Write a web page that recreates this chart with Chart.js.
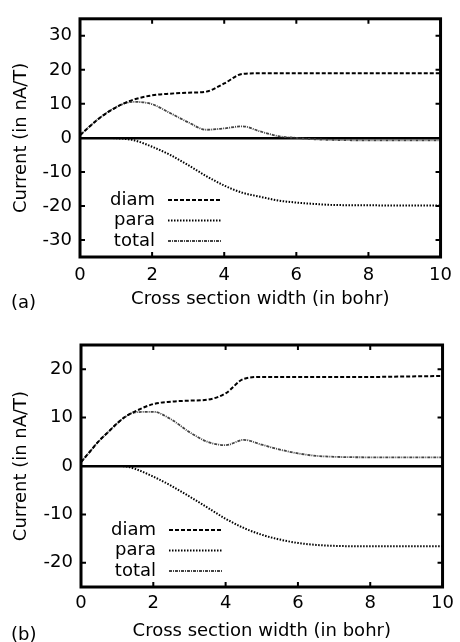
<!DOCTYPE html>
<html>
<head>
<meta charset="utf-8">
<script src="https://cdn.jsdelivr.net/npm/chart.js@4.4.1/dist/chart.umd.min.js"></script>
<style>
  body { margin: 0; background: #fff; width: 460px; height: 642px; position: relative; overflow: hidden; }
  canvas { display: block; position: absolute; left: 0; }
  .tag { position: absolute; left: 11px; font: 18px "DejaVu Sans", sans-serif; line-height: 18px; color: #000; }
</style>
</head>
<body>
<canvas id="panel-a" width="460" height="316" style="top:0"></canvas>
<canvas id="panel-b" width="460" height="326" style="top:316px"></canvas>
<span class="tag" style="top:293px">(a)</span>
<span class="tag" style="top:625px">(b)</span>
<script>
// cross section width (bohr)
const xs = [0, 0.25, 0.5, 0.75, 1, 1.25, 1.5, 2, 2.5, 3, 3.5, 4, 4.5, 5, 5.5, 6, 6.5, 7, 8, 9, 10];

// panel (a)
const diamA  = [0.8, 3.2, 5.5, 7.4, 9.0, 10.3, 11.3, 12.5, 13.0, 13.3, 13.6, 16.0, 18.8, 19.0, 19.0, 19.0, 19.0, 19.0, 19.0, 19.0, 19.0];
const paraA  = [0, 0, 0, 0, -0.1, -0.3, -0.7, -2.6, -5.0, -8.0, -11.2, -14.0, -16.1, -17.3, -18.4, -19.0, -19.4, -19.7, -19.8, -19.9, -19.9];
const totalA = [0.8, 3.2, 5.5, 7.4, 9.0, 10.2, 10.6, 9.9, 7.3, 4.6, 2.4, 2.8, 3.4, 1.9, 0.5, 0.0, -0.4, -0.6, -0.7, -0.7, -0.7];

// panel (b)
const diamB  = [0.8, 3.0, 5.2, 7.0, 8.8, 10.3, 11.3, 12.8, 13.3, 13.5, 13.7, 15.0, 18.0, 18.4, 18.4, 18.4, 18.4, 18.4, 18.4, 18.5, 18.6];
const paraB  = [0, 0, 0, 0, 0, -0.1, -0.6, -2.2, -4.1, -6.3, -8.6, -10.9, -12.8, -14.2, -15.2, -15.9, -16.3, -16.5, -16.6, -16.6, -16.6];
const totalB = [0.8, 3.0, 5.2, 7.0, 8.8, 10.3, 11.1, 11.2, 9.6, 7.0, 5.0, 4.3, 5.4, 4.4, 3.4, 2.6, 2.1, 1.9, 1.8, 1.8, 1.8];

const xTicks  = [0, 2, 4, 6, 8, 10];
const yTicksA = [-30, -20, -10, 0, 10, 20, 30];
const yTicksB = [-20, -10, 0, 10, 20];

const FONT = '"DejaVu Sans", sans-serif';

function pts(ys) {
    return xs.map((x, i) => ({x: x, y: ys[i]}));
}

function dataset(label, ys) {
    let style;
    if (label === 'diam') style = {dash: [4, 2], color: '#000', width: 2};
    if (label === 'para') style = {dash: [1.5, 1.5], color: '#000', width: 2};
    if (label === 'total') style = {dash: [3, 1, 1, 1], color: '#444', width: 1.8};
    return {
        label: label,
        data: pts(ys),
        borderColor: style.color,
        borderWidth: style.width,
        borderDash: style.dash,
        pointRadius: 0,
        fill: false,
        cubicInterpolationMode: 'monotone'
    };
}

// frame with inward ticks + legend inside the plot
const framePlugin = {
    id: 'frame',
    afterDraw(chart) {
        const {ctx, chartArea: a, scales: {x, y}} = chart;
        ctx.save();
        ctx.strokeStyle = '#000';
        ctx.setLineDash([]);
        ctx.lineWidth = 3;
        ctx.strokeRect(a.left, a.top, a.right - a.left, a.bottom - a.top);
        ctx.lineWidth = 2;
        ctx.beginPath();
        x.ticks.forEach(t => {
            const px = x.getPixelForValue(t.value);
            ctx.moveTo(px, a.bottom); ctx.lineTo(px, a.bottom - 5);
            ctx.moveTo(px, a.top); ctx.lineTo(px, a.top + 5);
        });
        y.ticks.forEach(t => {
            const py = y.getPixelForValue(t.value);
            ctx.moveTo(a.left, py); ctx.lineTo(a.left + 5, py);
            ctx.moveTo(a.right, py); ctx.lineTo(a.right - 5, py);
        });
        ctx.stroke();

        // legend
        ctx.font = '18px ' + FONT;
        ctx.fillStyle = '#000';
        ctx.textAlign = 'right';
        ctx.textBaseline = 'middle';
        chart.data.datasets.forEach((ds, i) => {
            const ly = a.bottom - 57 + i * 20.5;
            ctx.fillText(ds.label, a.left + 75, ly);
            ctx.beginPath();
            ctx.setLineDash(ds.borderDash);
            ctx.lineWidth = ds.borderWidth;
            ctx.strokeStyle = ds.borderColor;
            ctx.moveTo(a.left + 88, ly);
            ctx.lineTo(a.left + 142, ly);
            ctx.stroke();
        });
        ctx.restore();
    }
};

function makePanel(id, diam, para, total, yTicks, yMin, yMax, opt) {
    return new Chart(document.getElementById(id).getContext('2d'), {
        type: 'line',
        data: {
            datasets: [dataset('diam', diam), dataset('para', para), dataset('total', total)]
        },
        options: {
            responsive: false,
            animation: false,
            devicePixelRatio: 1,
            layout: {padding: {top: opt.top, right: opt.right, left: 0, bottom: 0}},
            plugins: {legend: {display: false}, tooltip: {enabled: false}},
            scales: {
                x: {
                    type: 'linear',
                    min: 0, max: 10,
                    afterBuildTicks: s => { s.ticks = xTicks.map(v => ({value: v})); },
                    afterFit: s => { s.height = opt.xh; },
                    grid: {display: false, drawTicks: false},
                    border: {display: false},
                    ticks: {font: {family: FONT, size: 18}, color: '#000', padding: opt.xp, maxRotation: 0},
                    title: {
                        display: true,
                        text: 'Cross section width (in bohr)',
                        font: {family: FONT, size: 18},
                        color: '#000',
                        padding: {top: 0, bottom: opt.tb}
                    }
                },
                y: {
                    min: yMin, max: yMax,
                    afterBuildTicks: s => { s.ticks = yTicks.map(v => ({value: v})); },
                    afterFit: s => { s.width = opt.yw; },
                    grid: {
                        drawTicks: false,
                        lineWidth: 2.5,
                        color: c => (c.tick && c.tick.value === 0) ? '#000' : 'rgba(0,0,0,0)'
                    },
                    border: {display: false},
                    ticks: {font: {family: FONT, size: 18}, color: '#000', padding: 8},
                    title: {
                        display: true,
                        text: 'Current (in nA/T)',
                        font: {family: FONT, size: 18},
                        color: '#000',
                        padding: {top: 11, bottom: 0}
                    }
                }
            }
        },
        plugins: [framePlugin]
    });
}

makePanel('panel-a', diamA, paraA, totalA, yTicksA, -35, 35, {top: 15, right: 15, xh: 59, yw: 80, tb: 6, xp: 8});
makePanel('panel-b', diamB, paraB, totalB, yTicksB, -25, 25, {top: 29, right: 14, xh: 55, yw: 81, tb: 0, xp: 6});
</script>
</body>
</html>
